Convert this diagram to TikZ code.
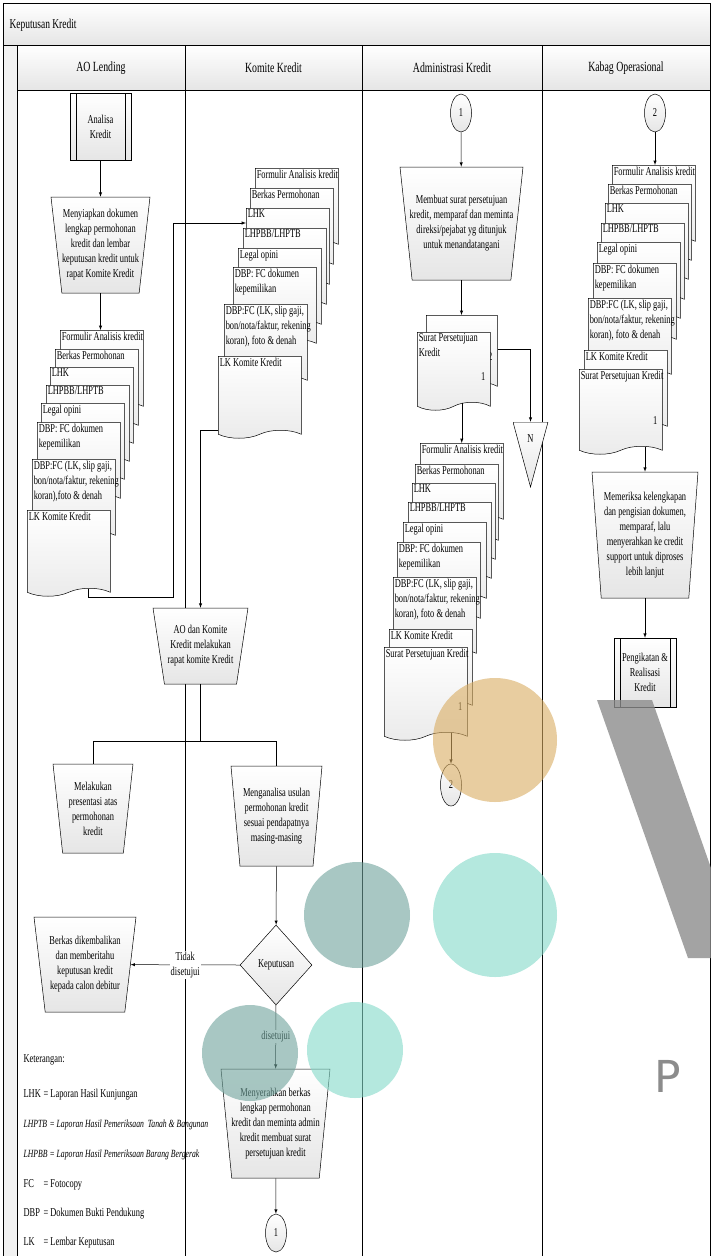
\documentclass[tikz,border=0pt]{standalone}
\usepackage{fontspec}
\setmainfont{Liberation Serif}[FakeStretch=0.7]
\newfontfamily\wmfont{DejaVu Sans}
\usepackage{tikz}
\usetikzlibrary{arrows,positioning,shapes.geometric,shapes.symbols}

\definecolor{wmtan}{HTML}{D9AC61}
\definecolor{wmdark}{HTML}{6EA29B}
\definecolor{wmmint}{HTML}{82D9C8}
\definecolor{wmgrey}{HTML}{8C8C8C}

\begin{document}
\begin{tikzpicture}[>=latex, x=1pt, y=-1pt, line width=.5pt,
	every node/.style={font=\fontsize{12}{15}\selectfont}]
	\tikzset{
		grad/.style={top color=white, bottom color=black!10},
		txt/.style={anchor=center, align=center, inner sep=0pt},
		proc/.style={trapezium, trapezium stretches=true, shape border rotate=180,
			trapezium angle=82, draw, grad, inner sep=2pt, label={[txt]center:#1}},
		sub/.style={rectangle, draw, grad, align=center, inner sep=0pt,
			minimum width=61pt, minimum height=67pt,
			path picture={\draw ([xshift=6pt]path picture bounding box.north west)
				-- ([xshift=6pt]path picture bounding box.south west)
				([xshift=-6pt]path picture bounding box.north east)
				-- ([xshift=-6pt]path picture bounding box.south east);}},
		doc/.style={tape, tape bend top=none, tape bend bottom=in and out,
			tape bend height=8pt, draw, top color=white, bottom color=black!8,
			anchor=north west, minimum width=83pt, minimum height=80pt,
			inner sep=1pt, label={[dtxt]north west:#1}},
		dtxt/.style={anchor=north west, align=left, inner sep=1.5pt},
		num/.style={label={[anchor=south east, inner sep=0pt, xshift=-5pt,
			yshift=22pt]south east:#1}},
		link/.style={ellipse, draw, grad, inner sep=0pt,
			minimum width=21pt, minimum height=38pt},
		head/.style={font=\fontsize{14}{16}\selectfont},
		miring/.style={anchor=base west, font=\itshape\fontsize{11}{13}\selectfont}
	}
	\useasboundingbox (0,0) rectangle (711,1256);
	% % Pool and lanes
	\fill[black!5] (3,45) rectangle (17,1256);
	\draw[grad] (3,3) rectangle (710.5,45);
	\node[anchor=west, font=\fontsize{13.5}{16}\selectfont] (judul) at (6,25) {Keputusan Kredit};
	\draw[grad] (17,45) rectangle (185,90);
	\draw[grad] (185,45) rectangle (362,90);
	\draw[grad] (362,45) rectangle (542,90);
	\draw[grad] (542,45) rectangle (710.5,90);
	\draw (3,3) -- (3,1256) (17,90) -- (17,1256) (185,90) -- (185,1256)
		(362,90) -- (362,1256) (542,90) -- (542,1256) (710.5,90) -- (710.5,1256);
	\node[head] (hao) at (101,68) {AO Lending};
	\node[head] (hkomite) at (273.5,68) {Komite Kredit};
	\node[head] (hadm) at (452,68) {Administrasi Kredit};
	\node[head] (hkabag) at (626,68) {Kabag Operasional};

	% % AO Lending
	\node[sub] (analisa) at (100.5,126.5) {Analisa\\Kredit};
	\node[proc={Menyiapkan dokumen\\lengkap permohonan\\kredit dan lembar\\keputusan kredit untuk\\rapat Komite Kredit},
		minimum width=99pt, minimum height=96pt] (siap) at (100.5,245) {};
	% berkas lengkap
	\node[doc={Formulir Analisis kredit}] (f1) at (60,330) {};
	\node[doc={Berkas Permohonan}] (b1) at (55,349) {};
	\node[doc={LHK}] (h1) at (50,367) {};
	\node[doc={LHPBB/LHPTB}] (p1) at (46,385) {};
	\node[doc={Legal opini}] (o1) at (41,403) {};
	\node[doc={DBP: FC dokumen\\kepemilikan}] (k1) at (37,422) {};
	\node[doc={DBP:FC (LK, slip gaji,\\bon/nota/faktur, rekening\\koran),foto \& denah}] (d1) at (32,459) {};
	\node[doc={LK Komite Kredit}, minimum height=86pt] (l1) at (27,510) {};
	\node[proc={Melakukan\\presentasi atas\\permohonan\\kredit},
		minimum width=80pt, minimum height=89pt, trapezium angle=81] (presentasi) at (93,808.5) {};
	\node[proc={Berkas dikembalikan\\dan memberitahu\\keputusan kredit\\kepada calon debitur},
		minimum width=102pt, minimum height=95pt] (kembali) at (85,964.5) {};
	% keterangan
	\node[anchor=base west] (ket) at (20,1062) {Keterangan:};
	\node[anchor=base west] (klhk) at (20,1097) {LHK};
	\node[anchor=base west] (dlhk) at (40,1097) {= Laporan Hasil Kunjungan};
	\node[miring] (klhptb) at (20,1127) {LHPTB};
	\node[miring] (dlhptb) at (46,1127) {= Laporan Hasil Pemeriksaan\ \ Tanah \& Bangunan};
	\node[miring] (klhpbb) at (20,1157) {LHPBB};
	\node[miring] (dlhpbb) at (46,1157) {= Laporan Hasil Pemeriksaan Barang Bergerak};
	\node[anchor=base west] (kfc) at (20,1187) {FC};
	\node[anchor=base west] (dfc) at (40,1187) {= Fotocopy};
	\node[anchor=base west] (kdbp) at (20,1216) {DBP};
	\node[anchor=base west] (ddbp) at (40,1216) {= Dokumen Bukti Pendukung};
	\node[anchor=base west] (klk) at (20,1245) {LK};
	\node[anchor=base west] (dlk) at (40,1245) {= Lembar Keputusan};

	% % Komite Kredit
	\node[doc={Formulir Analisis kredit}] (f2) at (255,168) {};
	\node[doc={Berkas Permohonan}] (b2) at (250,188) {};
	\node[doc={LHK}] (h2) at (246,208) {};
	\node[doc={LHPBB/LHPTB}] (p2) at (243,228) {};
	\node[doc={Legal opini}] (o2) at (238,248) {};
	\node[doc={DBP: FC dokumen\\kepemilikan}] (k2) at (233,267) {};
	\node[doc={DBP:FC (LK, slip gaji,\\bon/nota/faktur, rekening\\koran), foto \& denah}] (d2) at (224,304) {};
	\node[doc={LK Komite Kredit}, minimum height=82pt] (l2) at (218,356) {};
	\node[proc={AO dan Komite\\Kredit melakukan\\rapat komite Kredit},
		minimum width=95pt, minimum height=76pt, trapezium angle=81] (rapat) at (200.5,646) {};
	\node[proc={Menganalisa usulan\\permohonan kredit\\sesuai pendapatnya\\masing-masing},
		minimum width=91pt, minimum height=100pt, trapezium angle=83] (usulan) at (276.5,816) {};
	\node[diamond, draw, grad, aspect=.9, minimum width=72pt, minimum height=80pt,
		inner sep=0pt] (putusan) at (276,965) {Keputusan};
	\node[proc={Menyerahkan berkas\\lengkap permohonan\\kredit dan meminta admin\\kredit membuat surat\\persetujuan kredit},
		minimum width=109pt, minimum height=109pt, trapezium angle=83] (serah) at (275.5,1123.5) {};
	\node[link] (hub1a) at (276,1233) {1};

	% % Administrasi Kredit
	\node[link] (hub1b) at (461,113) {1};
	\node[proc={Membuat surat persetujuan\\kredit, memparaf dan meminta\\direksi/pejabat yg ditunjuk\\untuk menandatangani},
		every label/.append style={font=\fontsize{11}{13}\selectfont},
		minimum width=123pt, minimum height=113pt, trapezium angle=83] (buat) at (461.5,223.5) {};
	\node[doc={}, minimum width=71pt, minimum height=75pt, num=2] (sb3) at (426,315) {};
	\node[doc={Surat Persetujuan\\Kredit}, minimum width=73pt, minimum height=78pt, num=1] (sa3) at (417,332) {};
	\node[minimum width=35pt, minimum height=65pt, inner sep=0pt,
		path picture={\draw[grad] (path picture bounding box.north west)
			-- (path picture bounding box.north east)
			-- (path picture bounding box.south) -- cycle;},
		label={[anchor=north, yshift=-9pt]north:N}] (offp) at (530.5,454.5) {};
	\node[doc={Formulir Analisis kredit}] (f3) at (420,443) {};
	\node[doc={Berkas Permohonan}] (b3) at (415,464) {};
	\node[doc={LHK}] (h3) at (412,483) {};
	\node[doc={LHPBB/LHPTB}] (p3) at (408,502) {};
	\node[doc={Legal opini}] (o3) at (403,522) {};
	\node[doc={DBP: FC dokumen\\kepemilikan}] (k3) at (397,542) {};
	\node[doc={DBP:FC (LK, slip gaji,\\bon/nota/faktur, rekening\\koran), foto \& denah}] (d3) at (393,577) {};
	\node[doc={LK Komite Kredit}] (l3) at (389,629) {};
	\node[doc={Surat Persetujuan Kredit}, minimum height=93pt, num=1] (s3) at (384,647) {};
	\node[link, minimum height=42pt] (hub2a) at (451,785) {2};

	% % Kabag Operasional
	\node[link] (hub2b) at (655,113) {2};
	\node[doc={Formulir Analisis kredit}] (f4) at (612,165) {};
	\node[doc={Berkas Permohonan}] (b4) at (608,184) {};
	\node[doc={LHK}] (h4) at (605,203) {};
	\node[doc={LHPBB/LHPTB}] (p4) at (601,223) {};
	\node[doc={Legal opini}] (o4) at (597,242) {};
	\node[doc={DBP: FC dokumen\\kepemilikan}] (k4) at (593,263) {};
	\node[doc={DBP:FC (LK, slip gaji,\\bon/nota/faktur, rekening\\koran), foto \& denah}] (d4) at (588,298) {};
	\node[doc={LK Komite Kredit}] (l4) at (584,350) {};
	\node[doc={Surat Persetujuan Kredit}, minimum height=85pt, num=1] (s4) at (579,369) {};
	\node[proc={Memeriksa kelengkapan\\dan pengisian dokumen,\\memparaf, lalu\\menyerahkan ke credit\\support untuk diproses\\lebih lanjut},
		minimum width=106pt, minimum height=126pt, trapezium angle=84] (periksa) at (645,535) {};
	\node[sub, minimum width=62pt, minimum height=69pt] (ikat) at (645,672.5) {Pengikatan \&\\Realisasi\\Kredit};

	% % Connectors
	\coordinate (naik) at (173,597);
	\coordinate (bagi) at (200.5,741);
	\draw[->] (analisa) -- (siap);
	\draw[->] (siap) -- (siap |- f1.north);
	\draw[->] ([xshift=19.5pt]l1.south) |- (naik) |- ([yshift=-15pt]h2.north west);
	\draw[->] (l2.south west) -| (rapat);
	\draw (rapat) -- (bagi);
	\draw (presentasi) |- (bagi) -| (usulan);
	\draw[->] (usulan) -- (putusan);
	\draw[->] (putusan.west) -- node[fill=white, inner sep=1pt, align=center]{Tidak\\disetujui} (kembali);
	\draw[->] (putusan) -- node[fill=white, inner sep=1pt]{disetujui} (serah);
	\draw[->] (serah) -- (hub1a);
	\draw[->] (hub1b) -- (buat);
	\draw[->] (buat) -- (buat |- sb3.north);
	\draw[->] (sb3.east) -| (offp.north);
	\draw[->] (sa3.south -| f3.north) -- (f3.north);
	\draw[->] (s3.south -| hub2a) -- (hub2a);
	\draw[->] (hub2b) -- (hub2b |- f4.north);
	\draw[->] (s4.south -| periksa) -- (periksa);
	\draw[->] (periksa) -- (ikat);

	% % Watermark
	\fill[wmtan, opacity=.6] (495,740) circle (62pt);
	\fill[wmdark, opacity=.6] (357,915) circle (53pt);
	\fill[wmmint, opacity=.6] (495,915) circle (62pt);
	\fill[wmdark, opacity=.6] (250,1053) circle (48pt);
	\fill[wmmint, opacity=.6] (355,1050) circle (48pt);
	\fill[wmgrey, opacity=.8] (597,700) -- (652,700) -- (711,868) -- (711,958) -- (688,958) -- cycle;
	\node[text=wmgrey, font=\wmfont\fontsize{44}{44}\selectfont] (wmp) at (668,1076) {P};
\end{tikzpicture}
\end{document}
